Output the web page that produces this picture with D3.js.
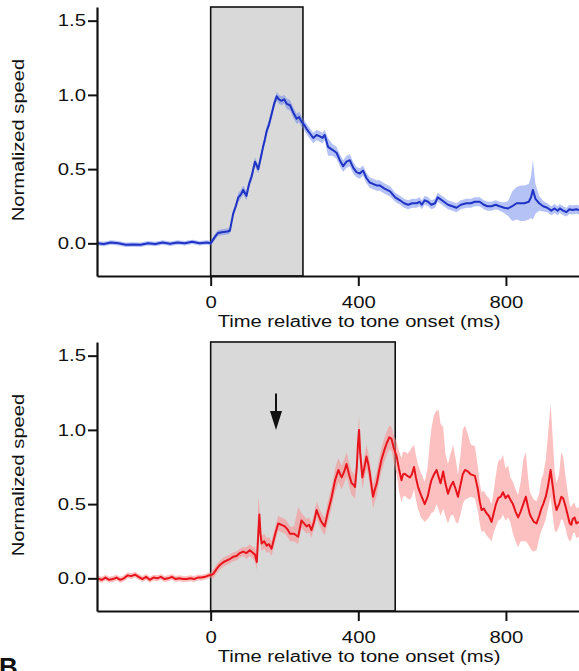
<!DOCTYPE html>
<html>
<head>
<meta charset="utf-8">
<script src="https://cdn.jsdelivr.net/npm/d3@7"></script>
<style>
  html, body { margin: 0; padding: 0; background: #fff; }
  svg { display: block; }
  text { font-family: "Liberation Sans", Arial, sans-serif; fill: #111; }
</style>
</head>
<body>
<svg id="chart" width="579" height="671"></svg>
<script>
// ---------- data ----------
const xTicks = [0, 400, 800];
const yTicks = [0.0, 0.5, 1.0, 1.5];
const xLabel = "Time relative to tone onset (ms)";
const yLabel = "Normalized speed";
const panelLetter = "B";

// top panel (blue) – stimulus 0–250 ms
const blueStim = [0, 250];
const blueTime = [-308,-290,-270,-250,-230,-210,-190,-170,-150,-130,-110,-90,-70,-50,-30,-10,0,
  12,20,30,45,52,61,68,75,82,88,
  97,104,111,120,129,136,142,147,152,158,
  165,172,179,185,192,199,206,215,224,233,
  240,246,253,260,269,278,287,296,303,309,
  318,330,341,350,359,368,377,386,395,404,
  413,422,431,440,450,458,470,486,500,513,
  524,535,546,558,566,572,580,589,598,608,
  615,621,632,643,655,666,678,693,705,716,
  729,740,750,761,772,783,795,806,817,829,
  840,850,862,868,873,880,890,901,912,923,
  932,940,946,955,964,972,980,991,998];
const blueMean = [0,-0.005,0.005,0,-0.01,-0.008,-0.01,0,-0.005,0.005,-0.003,0.005,0,0.01,0,0.005,0,
  0.045,0.07,0.075,0.08,0.085,0.2,0.25,0.31,0.33,0.36,
  0.32,0.4,0.45,0.55,0.5,0.58,0.65,0.7,0.76,0.8,
  0.87,0.94,0.99,0.97,0.96,0.97,0.94,0.93,0.88,0.84,
  0.85,0.82,0.8,0.77,0.74,0.71,0.73,0.72,0.71,0.73,
  0.65,0.63,0.61,0.56,0.52,0.55,0.56,0.51,0.48,0.47,
  0.49,0.44,0.41,0.4,0.39,0.39,0.37,0.35,0.31,0.29,
  0.27,0.26,0.27,0.27,0.28,0.26,0.29,0.28,0.26,0.27,
  0.31,0.3,0.28,0.26,0.25,0.24,0.26,0.27,0.27,0.28,
  0.28,0.26,0.25,0.25,0.26,0.25,0.24,0.235,0.25,0.27,
  0.27,0.27,0.28,0.31,0.36,0.3,0.27,0.25,0.24,0.22,
  0.235,0.22,0.235,0.22,0.21,0.23,0.225,0.23,0.225];
const blueErr = [0.015,0.015,0.015,0.015,0.015,0.015,0.015,0.015,0.015,0.015,0.015,0.015,0.015,0.015,0.015,0.015,0.015,
  0.02,0.02,0.02,0.02,0.02,0.025,0.025,0.03,0.03,0.03,
  0.03,0.03,0.03,0.03,0.03,0.03,0.03,0.03,0.03,0.03,
  0.03,0.03,0.03,0.03,0.03,0.03,0.035,0.035,0.035,0.035,
  0.035,0.035,0.035,0.035,0.035,0.035,0.035,0.035,0.035,0.035,
  0.06,0.04,0.04,0.04,0.04,0.04,0.04,0.04,0.035,0.035,
  0.035,0.035,0.035,0.035,0.035,0.035,0.035,0.035,0.03,0.03,
  0.03,0.03,0.03,0.03,0.03,0.03,0.03,0.03,0.03,0.03,
  0.03,0.03,0.03,0.03,0.03,0.03,0.03,0.03,0.03,0.03,
  0.03,0.03,0.03,0.03,0.03,0.03,0.035,0.05,0.1,0.11,
  0.12,0.12,0.12,0.14,0.2,0.1,0.05,0.035,0.03,0.03,
  0.03,0.03,0.03,0.03,0.03,0.03,0.03,0.03,0.03];

// bottom panel (red) – stimulus 0–500 ms
const redStim = [0, 500];
const redTime = [-308,-295,-285,-275,-265,-255,-245,-235,-225,-215,
  -205,-195,-185,-175,-165,-155,-145,-135,-125,-115,
  -105,-95,-85,-75,-65,-55,-45,-35,-25,-15,
  -5,0,
  7,15,25,35,43,52,61,70,79,88,
  97,106,115,120,125,129,132,135,138,145,
  152,158,165,175,183,192,201,208,215,226,
  237,246,253,260,267,273,280,287,293,298,
  303,309,318,328,337,346,351,355,362,368,
  375,382,387,391,396,399,402,405,411,416,
  422,427,431,436,440,445,450,456,463,470,
  477,484,490,496,504,510,517,521,526,533,
  540,545,551,556,562,570,580,588,594,598,
  605,612,618,623,630,636,643,650,657,664,
  670,677,683,689,697,705,716,724,729,734,
  740,747,754,761,767,773,779,786,792,799,
  806,812,819,826,833,840,847,854,860,865,
  869,876,883,890,896,901,908,914,921,928,
  932,937,944,950,955,962,968,973,977,981,
  986,991,998];
const redMean = [0,-0.01,0.005,-0.01,-0.005,0.005,-0.01,0,0.02,0.015,
  0.025,0.01,-0.005,0.01,-0.01,0.005,0,0.01,-0.005,0,
  0.01,-0.005,0,-0.005,-0.005,0,-0.005,0.005,0.005,0.01,
  0.02,0.02,
  0.03,0.06,0.09,0.11,0.12,0.13,0.145,0.15,0.17,0.18,
  0.17,0.19,0.17,0.16,0.11,0.3,0.43,0.3,0.235,0.25,
  0.22,0.23,0.2,0.3,0.37,0.36,0.35,0.33,0.3,0.3,
  0.28,0.39,0.37,0.35,0.36,0.325,0.38,0.46,0.42,0.39,
  0.37,0.35,0.45,0.55,0.66,0.73,0.7,0.68,0.72,0.77,
  0.7,0.64,0.63,0.615,0.75,0.9,1.0,0.85,0.68,0.74,
  0.82,0.77,0.71,0.62,0.55,0.6,0.64,0.72,0.8,0.86,
  0.91,0.95,0.94,0.88,0.82,0.74,0.66,0.7,0.705,0.69,
  0.68,0.7,0.75,0.68,0.615,0.56,0.5,0.55,0.62,0.66,
  0.7,0.73,0.68,0.64,0.72,0.64,0.57,0.62,0.65,0.6,
  0.55,0.63,0.7,0.73,0.72,0.7,0.69,0.6,0.52,0.46,
  0.47,0.44,0.42,0.38,0.44,0.5,0.54,0.55,0.58,0.54,
  0.56,0.53,0.5,0.45,0.41,0.45,0.5,0.55,0.48,0.43,
  0.41,0.38,0.37,0.42,0.47,0.5,0.55,0.62,0.73,0.6,
  0.52,0.46,0.5,0.55,0.54,0.48,0.42,0.37,0.36,0.4,
  0.41,0.37,0.38];
const redErrHi = [0.02,0.02,0.02,0.02,0.02,0.02,0.02,0.02,0.02,0.02,
  0.02,0.02,0.02,0.02,0.02,0.02,0.02,0.02,0.02,0.02,
  0.02,0.02,0.02,0.02,0.02,0.02,0.02,0.02,0.02,0.02,
  0.02,0.02,
  0.03,0.03,0.03,0.03,0.03,0.03,0.03,0.03,0.03,0.03,
  0.04,0.04,0.04,0.05,0.05,0.25,0.05,0.05,0.05,0.05,
  0.05,0.05,0.05,0.05,0.05,0.05,0.05,0.05,0.05,0.05,
  0.2,0.05,0.05,0.05,0.05,0.05,0.05,0.06,0.06,0.06,
  0.06,0.06,0.07,0.07,0.08,0.08,0.08,0.08,0.08,0.08,
  0.08,0.08,0.08,0.08,0.08,0.08,0.1,0.08,0.08,0.08,
  0.08,0.08,0.08,0.08,0.08,0.08,0.08,0.08,0.08,0.08,
  0.08,0.08,0.08,0.08,0.1,0.12,0.15,0.15,0.15,0.15,
  0.18,0.18,0.15,0.15,0.15,0.15,0.15,0.2,0.3,0.35,
  0.4,0.4,0.45,0.4,0.3,0.2,0.2,0.22,0.25,0.2,
  0.15,0.2,0.3,0.3,0.25,0.2,0.2,0.15,0.12,0.12,
  0.12,0.12,0.12,0.12,0.15,0.2,0.25,0.25,0.25,0.2,
  0.2,0.15,0.15,0.15,0.15,0.2,0.3,0.3,0.2,0.15,
  0.15,0.15,0.15,0.15,0.2,0.2,0.25,0.35,0.45,0.3,
  0.2,0.18,0.2,0.3,0.28,0.2,0.15,0.12,0.12,0.1,
  0.1,0.1,0.1];
const redErrLo = [0.02,0.02,0.02,0.02,0.02,0.02,0.02,0.02,0.02,0.02,
  0.02,0.02,0.02,0.02,0.02,0.02,0.02,0.02,0.02,0.02,
  0.02,0.02,0.02,0.02,0.02,0.02,0.02,0.02,0.02,0.02,
  0.02,0.02,
  0.03,0.03,0.03,0.03,0.03,0.03,0.03,0.03,0.03,0.03,
  0.04,0.04,0.04,0.05,0.05,0.1,0.08,0.06,0.05,0.05,
  0.05,0.05,0.05,0.05,0.05,0.05,0.05,0.05,0.05,0.05,
  0.05,0.05,0.05,0.05,0.05,0.05,0.05,0.05,0.05,0.05,
  0.06,0.06,0.07,0.07,0.08,0.08,0.08,0.08,0.08,0.08,
  0.08,0.08,0.08,0.08,0.08,0.08,0.08,0.08,0.08,0.08,
  0.08,0.08,0.08,0.08,0.08,0.08,0.08,0.08,0.08,0.08,
  0.08,0.08,0.08,0.1,0.12,0.15,0.15,0.15,0.15,0.15,
  0.15,0.15,0.15,0.15,0.15,0.15,0.12,0.15,0.2,0.22,
  0.25,0.23,0.22,0.22,0.25,0.22,0.2,0.2,0.22,0.22,
  0.18,0.2,0.2,0.2,0.18,0.15,0.15,0.15,0.15,0.15,
  0.15,0.15,0.15,0.13,0.13,0.15,0.15,0.15,0.15,0.15,
  0.15,0.15,0.2,0.2,0.2,0.2,0.25,0.3,0.25,0.22,
  0.22,0.2,0.18,0.15,0.15,0.15,0.15,0.15,0.18,0.2,
  0.2,0.15,0.15,0.15,0.15,0.15,0.15,0.12,0.1,0.1,
  0.1,0.1,0.1];
// arrow annotation in bottom panel: [time, top value, tip value]
const arrowSpec = [177, 1.245, 1.0];

// ---------- layout ----------
const svg = d3.select("#chart");
const plotLeft = 97, plotRight = 579, plotTop = 7, plotBottom = 276;
const panelOffsets = [0, 335];
const fontSize = 16, stretch = 1.27;

const x = d3.scaleLinear().domain([-308, 998]).range([plotLeft, plotRight]);
const y = d3.scaleLinear().domain([-0.22, 1.592]).range([plotBottom, plotTop]);

function stretchText(sel, k) {
  sel.each(function() {
    const w = this.getComputedTextLength();
    d3.select(this).attr("textLength", w * k).attr("lengthAdjust", "spacingAndGlyphs");
  });
}

const defs = svg.append("defs");
defs.append("clipPath").attr("id", "plotclip")
  .append("rect").attr("x", plotLeft).attr("y", plotTop)
  .attr("width", plotRight - plotLeft).attr("height", plotBottom - plotTop);

function drawPanel(offset, stim, t, mean, errHi, errLo, lineColor, bandColor, bandOpacity, arrow) {
  const g = svg.append("g").attr("transform", `translate(0,${offset})`);

  // stimulus box
  g.append("rect")
    .attr("x", x(stim[0])).attr("y", y.range()[1])
    .attr("width", x(stim[1]) - x(stim[0]))
    .attr("height", y.range()[0] - y.range()[1])
    .attr("fill", "#d9d9d9").attr("stroke", "#111").attr("stroke-width", 1.6);

  const plot = g.append("g").attr("clip-path", "url(#plotclip)");

  const pts = t.map((d, i) => ({t: d, v: mean[i], hi: errHi[i], lo: errLo[i]}));
  plot.append("path").datum(pts)
    .attr("d", d3.area().x(d => x(d.t)).y0(d => y(d.v - d.lo)).y1(d => y(d.v + d.hi)))
    .attr("fill", bandColor).attr("fill-opacity", bandOpacity).attr("stroke", "none");

  plot.append("path").datum(pts)
    .attr("d", d3.line().x(d => x(d.t)).y(d => y(d.v)))
    .attr("fill", "none").attr("stroke", lineColor).attr("stroke-width", 2)
    .attr("stroke-linejoin", "round");

  // axes
  const xa = g.append("g").attr("transform", `translate(0,${plotBottom})`)
    .call(d3.axisBottom(x).tickValues(xTicks).tickFormat(d3.format("d"))
      .tickSize(10).tickSizeOuter(0).tickPadding(11));
  const ya = g.append("g").attr("transform", `translate(${plotLeft},0)`)
    .call(d3.axisLeft(y).tickValues(yTicks).tickFormat(d3.format(".1f"))
      .tickSize(9).tickSizeOuter(0).tickPadding(2));
  [xa, ya].forEach(a => {
    a.select(".domain").attr("stroke", "#111").attr("stroke-width", 2.2);
    a.selectAll(".tick line").attr("stroke", "#111").attr("stroke-width", 2);
    a.selectAll(".tick text").attr("font-size", fontSize)
      .attr("font-family", '"Liberation Sans", Arial, sans-serif').attr("fill", "#111");
    stretchText(a.selectAll(".tick text"), stretch);
  });

  const xt = g.append("text").attr("x", 359).attr("y", 326.5)
    .attr("text-anchor", "middle").attr("font-size", fontSize).text(xLabel);
  stretchText(xt, 1.26);
  const yt = g.append("text").attr("transform", "translate(23.5,140) rotate(-90)")
    .attr("text-anchor", "middle").attr("font-size", fontSize).text(yLabel);
  stretchText(yt, 1.26);

  if (arrow) {
    const ax = x(arrow[0]), yTop = y(arrow[1]), yTip = y(arrow[2]);
    const headLen = 19, headHalf = 6;
    g.append("line").attr("x1", ax).attr("x2", ax).attr("y1", yTop).attr("y2", yTip - headLen + 2)
      .attr("stroke", "#111").attr("stroke-width", 2);
    g.append("path")
      .attr("d", `M${ax - headHalf},${yTip - headLen} L${ax + headHalf},${yTip - headLen} L${ax},${yTip} Z`)
      .attr("fill", "#111");
  }
}

drawPanel(panelOffsets[0], blueStim, blueTime, blueMean, blueErr, blueErr,
  "#1f33c4", "rgb(90,120,235)", 0.45, null);
drawPanel(panelOffsets[1], redStim, redTime, redMean, redErrHi, redErrLo,
  "#e8141c", "rgb(250,140,140)", 0.55, arrowSpec);

svg.append("text").attr("x", -1).attr("y", 676)
  .attr("font-size", 26).attr("font-weight", "bold").text(panelLetter);
</script>
</body>
</html>
